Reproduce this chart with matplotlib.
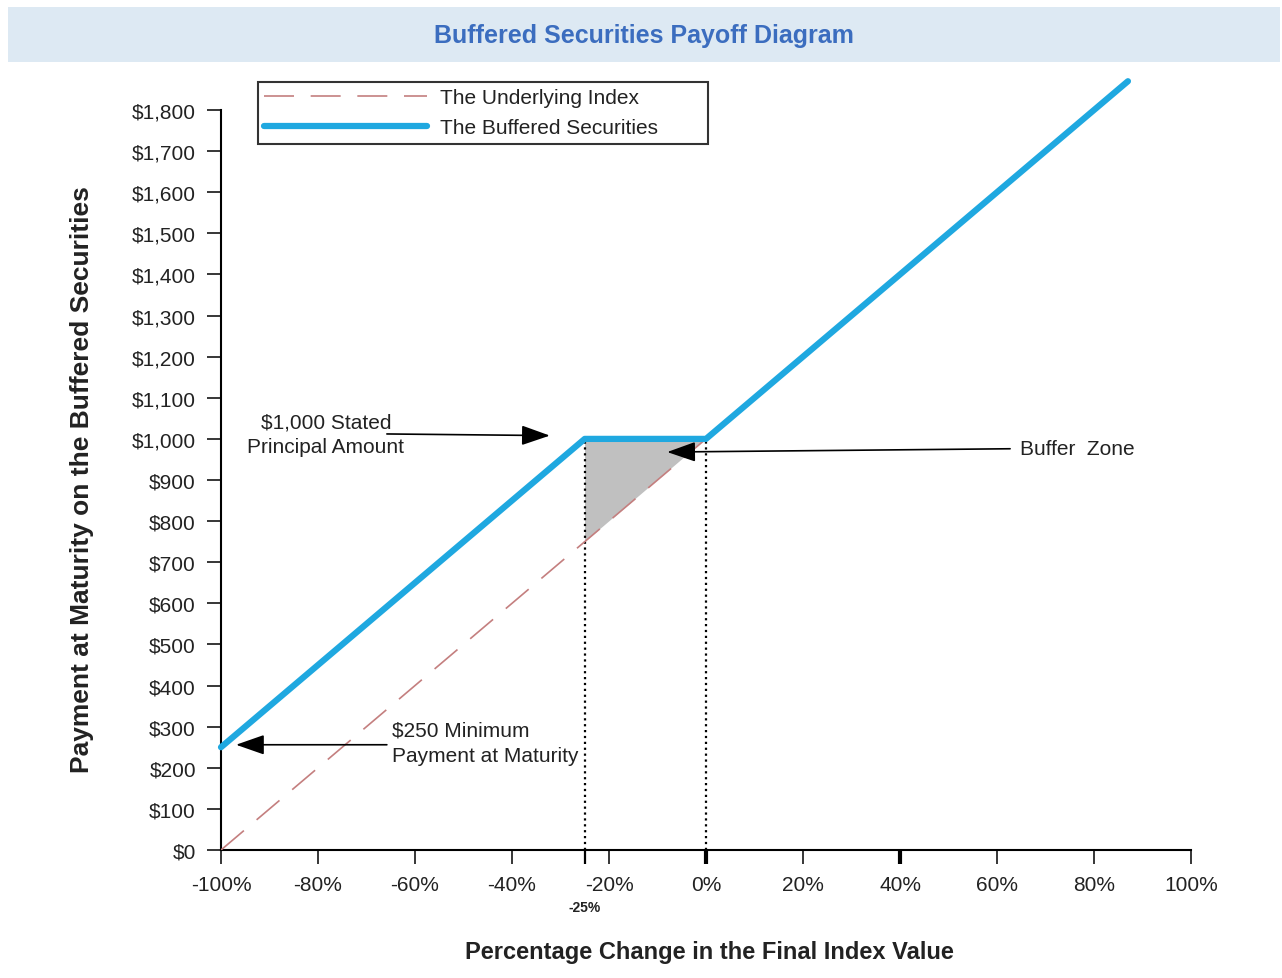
import matplotlib
matplotlib.use("Agg")
import matplotlib.pyplot as plt
from matplotlib.patches import Rectangle

plt.rcParams['font.family'] = ['Liberation Sans', 'DejaVu Sans']

# data
index_x = [-100, 0]
index_y = [0, 1000]
buffer_x = [-100, -25, 0, 87]
buffer_y = [250, 1000, 1000, 1870]
shade_x = [-25, -25, 0]
shade_y = [750, 1000, 1000]
buffer_level = -25
x_ticks = [-100, -80, -60, -40, -20, 0, 20, 40, 60, 80, 100]
y_ticks = list(range(0, 1900, 100))

blue = '#1fa8e0'
dash_col = '#c47f7f'
txt_col = '#222222'

fig = plt.figure(figsize=(12.82, 9.79), dpi=100)
W, H = 1282, 979

# title banner
fig.add_artist(Rectangle((8 / W, 1 - 63 / H), 1272 / W, 55 / H, transform=fig.transFigure,
                         facecolor='#dde9f3', edgecolor='none', zorder=0))
fig.text(644 / W, 1 - 36 / H, 'Buffered Securities Payoff Diagram', ha='center', va='center',
         fontsize=18, fontweight='bold', color='#3b6dbf')

ax = fig.add_axes([221 / W, 128 / H, 970 / W, 777 / H])
ax.set_xlim(-100, 100)
ax.set_ylim(0, 1890)

# shaded buffer zone
ax.fill(shade_x, shade_y, color='#c0c0c0', zorder=1, lw=0)

# dotted verticals
ax.plot([buffer_level, buffer_level], [0, 1000], color='black', ls=':', lw=1.6, zorder=2)
ax.plot([0, 0], [0, 1000], color='black', ls=':', lw=1.6, zorder=2)

ax.plot(index_x, index_y, color=dash_col, lw=1.2, ls=(0, (18, 10)), label='The Underlying Index', zorder=3)
ax.plot(buffer_x, buffer_y, color=blue, lw=4.5, solid_capstyle='round', label='The Buffered Securities',
        zorder=4, clip_on=False)

# axes styling
for s in ['top', 'right']:
    ax.spines[s].set_visible(False)
ax.spines['left'].set_bounds(0, 1800)
ax.spines['bottom'].set_bounds(-100, 100)
ax.spines['left'].set_linewidth(1.5)
ax.spines['bottom'].set_linewidth(1.5)

ax.set_yticks(y_ticks)
ax.set_yticklabels(['$' + format(v, ',') for v in y_ticks])
ax.set_xticks(x_ticks)
ax.set_xticklabels([str(v) + '%' for v in x_ticks])
ax.set_xticks([buffer_level], minor=True)
ax.tick_params(axis='both', which='both', direction='out', length=10, width=1.1,
               labelsize=15, labelcolor=txt_col, pad=8)
ax.tick_params(axis='x', which='minor', length=10, width=1.6)
for t in ax.xaxis.get_major_ticks():
    if t.get_loc() in (0, 40):
        t.tick1line.set_markeredgewidth(3)

ax.text(buffer_level, -0.073, '-25%', transform=ax.get_xaxis_transform(), ha='center', va='center',
        fontsize=10, fontweight='bold', color=txt_col)

# axis labels
fig.text(709 / W, 1 - 953 / H, 'Percentage Change in the Final Index Value', ha='center', va='center',
         fontsize=17, fontweight='bold', color=txt_col)
fig.text(82 / W, 1 - 480 / H, 'Payment at Maturity on the Buffered Securities', ha='center', va='center',
         rotation=90, fontsize=19, fontweight='bold', color=txt_col)

# annotations
arrow = dict(arrowstyle='-|>,head_length=0.8,head_width=0.28', mutation_scale=22, color='black',
             lw=1.2, shrinkA=0, shrinkB=0)
ax.text(-78.4, 1012, '$1,000 Stated\nPrincipal Amount', ha='center', va='center', fontsize=15,
        color=txt_col, multialignment='center', linespacing=1.35)
ax.annotate('', xy=(-32.2, 1008), xytext=(-65.8, 1012), arrowprops=arrow)

ax.text(64.7, 976, 'Buffer  Zone', ha='left', va='center', fontsize=15, color=txt_col)
ax.annotate('', xy=(-8.0, 968), xytext=(62.7, 976), arrowprops=arrow)

ax.text(-64.7, 260, '$250 Minimum\nPayment at Maturity', ha='left', va='center', fontsize=15,
        color=txt_col, linespacing=1.45)
ax.annotate('', xy=(-96.9, 256), xytext=(-65.8, 256), arrowprops=arrow)

leg = ax.legend(loc='upper left', bbox_to_anchor=(258 / W, 1 - 146 / H, 450 / W, 63 / H),
                bbox_transform=fig.transFigure, mode='expand', fontsize=15, frameon=True,
                fancybox=False, edgecolor='black', handlelength=7.8, handletextpad=0.63,
                labelspacing=0.53, borderpad=0.3, borderaxespad=0)
leg.get_frame().set_linewidth(1.5)
for t in leg.get_texts():
    t.set_color(txt_col)

fig.savefig('out.png', dpi=100)
